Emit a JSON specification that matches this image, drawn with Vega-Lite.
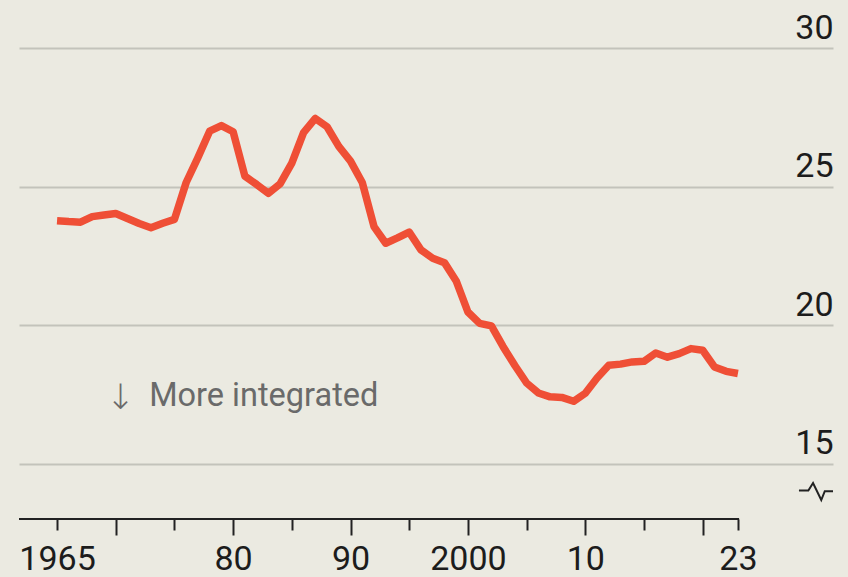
{
  "$schema": "https://vega.github.io/schema/vega-lite/v6.json",
  "width": 814,
  "height": 471,
  "autosize": {"type": "none"},
  "padding": {"left": 19, "top": 48, "right": 15, "bottom": 58},
  "background": "#ebeae1",
  "config": {"view": {"stroke": null}, "font": "Roboto"},
  "datasets": {
    "series": [
      {"year": 1965, "value": 23.77}, {"year": 1966, "value": 23.74}, {"year": 1967, "value": 23.72},
      {"year": 1968, "value": 23.92}, {"year": 1969, "value": 23.98}, {"year": 1970, "value": 24.03},
      {"year": 1971, "value": 23.85}, {"year": 1972, "value": 23.67}, {"year": 1973, "value": 23.52},
      {"year": 1974, "value": 23.68}, {"year": 1975, "value": 23.82}, {"year": 1976, "value": 25.15},
      {"year": 1977, "value": 26.05}, {"year": 1978, "value": 27.0}, {"year": 1979, "value": 27.2},
      {"year": 1980, "value": 26.98}, {"year": 1981, "value": 25.38}, {"year": 1982, "value": 25.08},
      {"year": 1983, "value": 24.76}, {"year": 1984, "value": 25.1}, {"year": 1985, "value": 25.85},
      {"year": 1986, "value": 26.95}, {"year": 1987, "value": 27.46}, {"year": 1988, "value": 27.16},
      {"year": 1989, "value": 26.45}, {"year": 1990, "value": 25.92}, {"year": 1991, "value": 25.15},
      {"year": 1992, "value": 23.56}, {"year": 1993, "value": 22.96}, {"year": 1994, "value": 23.15},
      {"year": 1995, "value": 23.36}, {"year": 1996, "value": 22.72}, {"year": 1997, "value": 22.42},
      {"year": 1998, "value": 22.26}, {"year": 1999, "value": 21.6}, {"year": 2000, "value": 20.48},
      {"year": 2001, "value": 20.07}, {"year": 2002, "value": 19.98}, {"year": 2003, "value": 19.23},
      {"year": 2004, "value": 18.55}, {"year": 2005, "value": 17.92}, {"year": 2006, "value": 17.56},
      {"year": 2007, "value": 17.42}, {"year": 2008, "value": 17.4}, {"year": 2009, "value": 17.26},
      {"year": 2010, "value": 17.55}, {"year": 2011, "value": 18.1}, {"year": 2012, "value": 18.56},
      {"year": 2013, "value": 18.6}, {"year": 2014, "value": 18.68}, {"year": 2015, "value": 18.7},
      {"year": 2016, "value": 19.0}, {"year": 2017, "value": 18.85}, {"year": 2018, "value": 18.98},
      {"year": 2019, "value": 19.16}, {"year": 2020, "value": 19.1}, {"year": 2021, "value": 18.5},
      {"year": 2022, "value": 18.34}, {"year": 2023, "value": 18.26}
    ],
    "breakmark": [
      {"i": 0, "x": 2028.2, "y": 14.04},
      {"i": 1, "x": 2029.0, "y": 14.04},
      {"i": 2, "x": 2029.4, "y": 14.31},
      {"i": 3, "x": 2030.1, "y": 13.70},
      {"i": 4, "x": 2030.4, "y": 14.02},
      {"i": 5, "x": 2031.1, "y": 14.02}
    ],
    "note": [{"arrow": "↓", "label": "More integrated"}],
    "base": [{"from": 1961.76, "to": 2023.1, "level": 13.015}]
  },
  "layer": [
    {
      "data": {"name": "series"},
      "mark": {"type": "line", "color": "#ef4f36", "strokeWidth": 7.5, "strokeJoin": "round"},
      "encoding": {
        "x": {
          "field": "year", "type": "quantitative",
          "scale": {"domain": [1961.76, 2031.1], "nice": false, "zero": false},
          "axis": {
            "title": null,
            "values": [1965, 1970, 1975, 1980, 1985, 1990, 1995, 2000, 2005, 2010, 2015, 2020, 2023],
            "labelExpr": "datum.value == 1965 ? '1965' : datum.value == 1980 ? '80' : datum.value == 1990 ? '90' : datum.value == 2000 ? '2000' : datum.value == 2010 ? '10' : datum.value == 2023 ? '23' : ''",
            "domain": false,
            "grid": false,
            "tickColor": "#222222",
            "tickWidth": 2,
            "tickSize": {"condition": {"test": "datum.value % 10 === 0", "value": 16}, "value": 11},
            "labelPadding": {"condition": {"test": "datum.value % 10 === 0", "value": 7}, "value": 12},
            "labelFont": "Roboto",
            "labelFontSize": 34,
            "labelColor": "#1c1c1c",
            "labelBaseline": "top",
            "labelFlush": false,
            "labelOverlap": false
          }
        },
        "y": {
          "field": "value", "type": "quantitative",
          "scale": {"domain": [13.015, 30], "nice": false, "zero": false},
          "axis": {
            "title": null,
            "orient": "right",
            "values": [15, 20, 25, 30],
            "grid": true,
            "gridColor": "#c3c3bb",
            "gridWidth": 2,
            "domain": false,
            "ticks": false,
            "tickSize": 0,
            "labelPadding": 0,
            "labelAlign": "right",
            "labelBaseline": "alphabetic",
            "labelOffset": -10,
            "labelFont": "Roboto",
            "labelFontSize": 34,
            "labelColor": "#1c1c1c",
            "labelFlush": false,
            "labelOverlap": false
          }
        }
      }
    },
    {
      "data": {"name": "base"},
      "mark": {"type": "rule", "color": "#222222", "strokeWidth": 2},
      "encoding": {
        "x": {"field": "from", "type": "quantitative", "scale": {"domain": [1961.76, 2031.1], "nice": false, "zero": false}},
        "x2": {"field": "to"},
        "y": {"field": "level", "type": "quantitative", "scale": {"domain": [13.015, 30], "nice": false, "zero": false}}
      }
    },
    {
      "data": {"name": "breakmark"},
      "mark": {"type": "line", "color": "#222222", "strokeWidth": 2},
      "encoding": {
        "x": {"field": "x", "type": "quantitative", "scale": {"domain": [1961.76, 2031.1], "nice": false, "zero": false}},
        "y": {"field": "y", "type": "quantitative", "scale": {"domain": [13.015, 30], "nice": false, "zero": false}},
        "order": {"field": "i"}
      }
    },
    {
      "data": {"name": "note"},
      "mark": {"type": "text", "align": "center", "baseline": "alphabetic", "dy": 3, "font": "DejaVu Sans", "fontWeight": 300, "fontSize": 35, "color": "#6a6a6a"},
      "encoding": {
        "x": {"datum": 1970.4, "type": "quantitative", "scale": {"domain": [1961.76, 2031.1], "nice": false, "zero": false}},
        "y": {"datum": 17.09, "type": "quantitative", "scale": {"domain": [13.015, 30], "nice": false, "zero": false}},
        "text": {"field": "arrow"}
      }
    },
    {
      "data": {"name": "note"},
      "mark": {"type": "text", "align": "left", "baseline": "alphabetic", "font": "Roboto", "fontSize": 32.5, "color": "#6a6a6a"},
      "encoding": {
        "x": {"datum": 1972.85, "type": "quantitative", "scale": {"domain": [1961.76, 2031.1], "nice": false, "zero": false}},
        "y": {"datum": 17.09, "type": "quantitative", "scale": {"domain": [13.015, 30], "nice": false, "zero": false}},
        "text": {"field": "label"}
      }
    }
  ]
}
